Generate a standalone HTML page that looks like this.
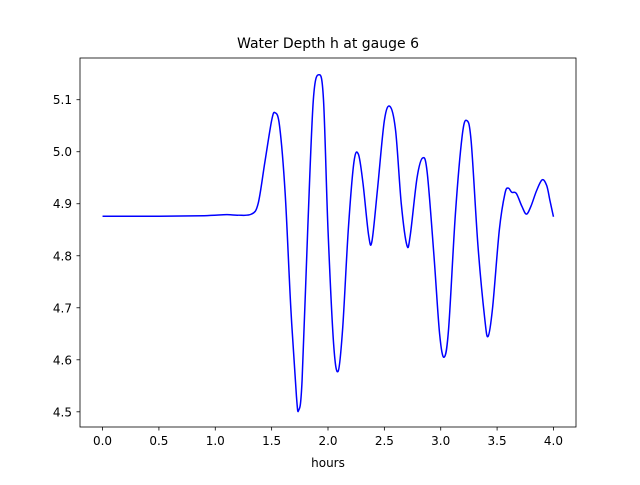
<!DOCTYPE html>
<html><head><meta charset="utf-8"><style>
body{margin:0;background:#fff}
text{font-family:"DejaVu Sans","Liberation Sans",sans-serif;font-size:12px;fill:#000}
</style></head><body>
<svg id="chart" width="640" height="480">
<rect width="640" height="480" fill="#fff"/>
<text x="328" y="48" text-anchor="middle" style="font-size:14px">Water Depth h at gauge 6</text>
<g id="plot"></g>
<rect x="80" y="58" width="496" height="369" fill="none" stroke="#000" stroke-width="0.8"/>
<text x="328" y="467" text-anchor="middle">hours</text>
</svg>
<script>
const times=[0,0.5,0.9,1.1,1.2,1.32,1.38,1.44,1.5,1.53,1.57,1.62,1.67,1.72,1.74,1.77,1.82,1.87,1.92,1.96,2.0,2.05,2.09,2.13,2.18,2.23,2.27,2.31,2.36,2.39,2.44,2.5,2.55,2.6,2.65,2.7,2.73,2.79,2.84,2.88,2.94,2.99,3.03,3.07,3.13,3.19,3.23,3.27,3.33,3.39,3.42,3.46,3.52,3.57,3.6,3.63,3.67,3.72,3.76,3.8,3.85,3.9,3.94,3.97,4.0];
const depths=[4.876,4.876,4.877,4.879,4.878,4.88,4.9,4.98,5.06,5.075,5.05,4.92,4.7,4.53,4.503,4.56,4.85,5.1,5.148,5.1,4.85,4.63,4.578,4.66,4.85,4.98,4.995,4.94,4.84,4.828,4.93,5.06,5.087,5.04,4.9,4.82,4.84,4.95,4.988,4.96,4.8,4.65,4.605,4.66,4.88,5.03,5.06,5.02,4.82,4.68,4.645,4.7,4.85,4.92,4.93,4.922,4.92,4.895,4.88,4.895,4.925,4.946,4.935,4.905,4.875];
const xTicks=[0,0.5,1.0,1.5,2.0,2.5,3.0,3.5,4.0];
const xTickLabels=["0.0","0.5","1.0","1.5","2.0","2.5","3.0","3.5","4.0"];
const yTicks=[4.5,4.6,4.7,4.8,4.9,5.0,5.1];
const yTickLabels=["4.5","4.6","4.7","4.8","4.9","5.0","5.1"];
const L=80,R=576,T=58,B=427,xmin=-0.2,xmax=4.2,ymin=4.4708,ymax=5.1802;
const sx=v=>L+(v-xmin)/(xmax-xmin)*(R-L);
const sy=v=>B-(v-ymin)/(ymax-ymin)*(B-T);
const NS="http://www.w3.org/2000/svg";
const g=document.getElementById('plot');
function mk(t,a){const e=document.createElementNS(NS,t);for(const k in a)e.setAttribute(k,a[k]);g.appendChild(e);return e;}
xTicks.forEach((v,i)=>{
 const l=mk('line',{x1:sx(v),x2:sx(v),y1:B,y2:B+3.5,stroke:'#000','stroke-width':0.8});
 
 
 const t=mk('text',{x:sx(v),y:B+18,'text-anchor':'middle'});t.textContent=xTickLabels[i];
 
 
});
yTicks.forEach((v,i)=>{
 const l=mk('line',{x1:L-3.5,x2:L,y1:sy(v),y2:sy(v),stroke:'#000','stroke-width':0.8});
 
 
 const t=mk('text',{x:L-8,y:sy(v)+4.5,'text-anchor':'end'});t.textContent=yTickLabels[i];
 
 
});
const P=times.map((t,i)=>[sx(t),sy(depths[i])]);
let d='M'+P[0][0]+','+P[0][1];
for(let i=0;i<P.length-1;i++){
 const p0=P[Math.max(i-1,0)],p1=P[i],p2=P[i+1],p3=P[Math.min(i+2,P.length-1)];
 const c1=[p1[0]+(p2[0]-p0[0])/6,p1[1]+(p2[1]-p0[1])/6];
 const c2=[p2[0]-(p3[0]-p1[0])/6,p2[1]-(p3[1]-p1[1])/6];
 d+=`C${c1[0]},${c1[1]} ${c2[0]},${c2[1]} ${p2[0]},${p2[1]}`;
}
const line=mk('path',{d:d,fill:'none',stroke:'#0000ff','stroke-width':1.5});


</script>
</body></html>
